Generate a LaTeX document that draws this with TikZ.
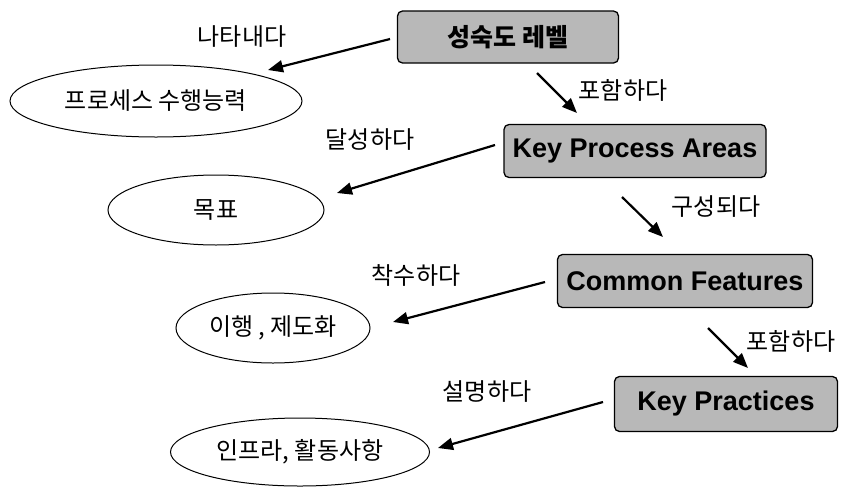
\documentclass[tikz,border=0pt]{standalone}
\usepackage{fontspec}
\setmainfont{Liberation Sans}
\newfontfamily\kr{Noto Sans CJK KR}
\usetikzlibrary{arrows.meta,shapes.geometric}
\begin{document}
\begin{tikzpicture}[x=1pt,y=-1pt,
  boxnode/.style={draw=black,line width=1.3pt,fill=black!28,rounded corners=5pt,
    inner sep=0pt,font=\fontsize{27}{30}\selectfont\bfseries},
  ovalnode/.style={draw=black,line width=1pt,ellipse,inner sep=0pt,
    font=\kr\fontsize{24}{28}\selectfont},
  lbl/.style={inner sep=0pt,font=\kr\fontsize{24}{28}\selectfont},
  arr/.style={line width=2.2pt,-{Triangle[length=15pt,width=12pt]}}]
\useasboundingbox (0,0) rectangle (848,493);
% boxes
\node[boxnode,minimum width=221pt,minimum height=52pt] (b1) at (508,37) {\kr\fontsize{25}{28}\selectfont\bfseries 성숙도 레벨};
\node[boxnode,minimum width=262pt,minimum height=53pt] (b2) at (635,151) {Key Process Areas};
\node[boxnode,minimum width=255pt,minimum height=53pt] (b3) at (685,281) {Common Features};
\node[boxnode,minimum width=223pt,minimum height=55pt] (b4) at (726,404) {Key Practices};
% ellipses
\node[ovalnode,minimum width=292pt,minimum height=72pt] (e1) at (156,101) {프로세스 수행능력};
\node[ovalnode,minimum width=216pt,minimum height=70pt] (e2) at (216,210) {목표};
\node[ovalnode,minimum width=194pt,minimum height=70pt] (e3) at (273,328) {이행 , 제도화};
\node[ovalnode,minimum width=259pt,minimum height=68pt] (e4) at (300,452) {인프라, 활동사항};
% arrow end points
\coordinate (a1s) at (390,39);  \coordinate (a1e) at (268,70);
\coordinate (a2s) at (537,73);  \coordinate (a2e) at (577,113);
\coordinate (a3s) at (495,145); \coordinate (a3e) at (337,193);
\coordinate (a4s) at (622,197); \coordinate (a4e) at (663,237);
\coordinate (a5s) at (545,282); \coordinate (a5e) at (393,322);
\coordinate (a6s) at (708,328); \coordinate (a6e) at (748,368);
\coordinate (a7s) at (603,402); \coordinate (a7e) at (438,448);
\draw[arr] (a1s) -- (a1e);
\draw[arr] (a2s) -- (a2e);
\draw[arr] (a3s) -- (a3e);
\draw[arr] (a4s) -- (a4e);
\draw[arr] (a5s) -- (a5e);
\draw[arr] (a6s) -- (a6e);
\draw[arr] (a7s) -- (a7e);
% labels
\node[lbl] (l1) at (242,37) {나타내다};
\node[lbl] (l2) at (623,90) {포함하다};
\node[lbl] (l3) at (370,140) {달성하다};
\node[lbl] (l4) at (716,207) {구성되다};
\node[lbl] (l5) at (416,275) {착수하다};
\node[lbl] (l6) at (791,341) {포함하다};
\node[lbl] (l7) at (487,392) {설명하다};
\end{tikzpicture}
\end{document}
